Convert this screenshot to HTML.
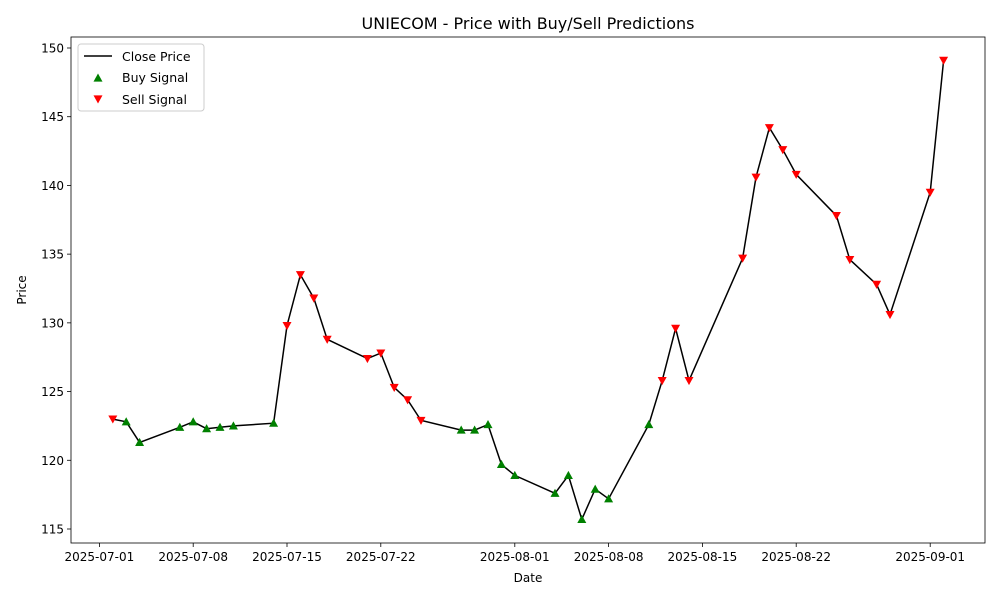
<!DOCTYPE html>
<html><head><meta charset="utf-8"><style>
body{margin:0;background:#fff;font-family:"Liberation Sans","DejaVu Sans",sans-serif}
svg text{font-family:"DejaVu Sans","Liberation Sans",sans-serif;fill:#000}
</style></head><body>
<svg id="chart" width="1000" height="600" xmlns="http://www.w3.org/2000/svg"></svg>
<script>
const dates=["07-02","07-03","07-04","07-07","07-08","07-09","07-10","07-11","07-14","07-15","07-16","07-17","07-18","07-21","07-22","07-23","07-24","07-25","07-28","07-29","07-30","07-31","08-01","08-04","08-05","08-06","08-07","08-08","08-11","08-12","08-13","08-14","08-18","08-19","08-20","08-21","08-22","08-25","08-26","08-28","08-29","09-01","09-02"];
const prices=[123.0,122.8,121.3,122.4,122.8,122.3,122.4,122.5,122.7,129.8,133.5,131.8,128.8,127.4,127.8,125.3,124.4,122.9,122.2,122.2,122.6,119.7,118.9,117.6,118.9,115.7,117.9,117.2,122.6,125.8,129.6,125.8,134.7,140.6,144.2,142.6,140.8,137.8,134.6,132.8,130.6,139.5,149.1];
const signals=["S","B","B","B","B","B","B","B","B","S","S","S","S","S","S","S","S","S","B","B","B","B","B","B","B","B","B","B","B","S","S","S","S","S","S","S","S","S","S","S","S","S","S"];
const yTicks=[115,120,125,130,135,140,145,150];
const xTickLabels=["2025-07-01","2025-07-08","2025-07-15","2025-07-22","2025-08-01","2025-08-08","2025-08-15","2025-08-22","2025-09-01"];

const svg=document.getElementById('chart');
const NS="http://www.w3.org/2000/svg";
const L=71,R=985,T=37,B=543;
function dayIndex(md){const [m,d]=md.split('-').map(Number);return m===7?d-1:m===8?30+d:61+d;}
function xs(day){return 99.4+day*13.4;}
function ys(v){return 529-(v-115)*13.743;}
function el(tag,attrs,parent){const e=document.createElementNS(NS,tag);for(const k in attrs)e.setAttribute(k,attrs[k]);(parent||svg).appendChild(e);return e;}
function txt(s,attrs){const t=el('text',attrs);t.textContent=s;return t;}

let t=txt("UNIECOM - Price with Buy/Sell Predictions",{x:(L+R)/2,y:29,'text-anchor':'middle','font-size':16});



yTicks.forEach(v=>{
 const y=ys(v);
 const l=el('line',{x1:L-4,x2:L,y1:y,y2:y,stroke:'#000','stroke-width':0.8});
 
 
 const tt=txt(String(v),{x:L-7,y:y+4.5,'text-anchor':'end','font-size':12});
 
 
});
xTickLabels.forEach(s=>{
 const x=xs(dayIndex(s.slice(5)));
 const l=el('line',{x1:x,x2:x,y1:B,y2:B+4,stroke:'#000','stroke-width':0.8});
 
 
 const tt=txt(s,{x:x,y:B+18,'text-anchor':'middle','font-size':12});
 
 
});
t=txt("Date",{x:(L+R)/2,y:582,'text-anchor':'middle','font-size':12});


t=txt("Price",{x:26,y:(T+B)/2,'text-anchor':'middle','font-size':12,transform:`rotate(-90 26 ${(T+B)/2})`});



const pts=dates.map((d,i)=>xs(dayIndex(d)).toFixed(1)+','+ys(prices[i]).toFixed(1)).join(' ');
const line=el('polyline',{points:pts,fill:'none',stroke:'#000','stroke-width':1.5});



function tri(x,y,up,color){
 const s=4.5;
 const p=up?`${x},${y-s} ${x-s},${y+s*0.8} ${x+s},${y+s*0.8}`:`${x},${y+s} ${x-s},${y-s*0.8} ${x+s},${y-s*0.8}`;
 return el('polygon',{points:p,fill:color});
}
dates.forEach((d,i)=>{
 const m=tri(xs(dayIndex(d)),ys(prices[i]),signals[i]==="B",signals[i]==="B"?'green':'red');
 
 
});

const frame=el('rect',{x:L,y:T,width:R-L,height:B-T,fill:'none',stroke:'#000','stroke-width':0.8});



const lg=el('rect',{x:78,y:44,width:126,height:67,fill:'#fff',stroke:'#ccc','stroke-width':1,rx:3});


const ll=el('line',{x1:84,x2:112,y1:56,y2:56,stroke:'#000','stroke-width':1.5});


t=txt("Close Price",{x:122,y:61,'font-size':12.5});


let m=tri(98,78,true,'green');


t=txt("Buy Signal",{x:122,y:82,'font-size':12.5});


m=tri(98,99,false,'red');


t=txt("Sell Signal",{x:122,y:104,'font-size':12.5});


</script>
</body></html>
